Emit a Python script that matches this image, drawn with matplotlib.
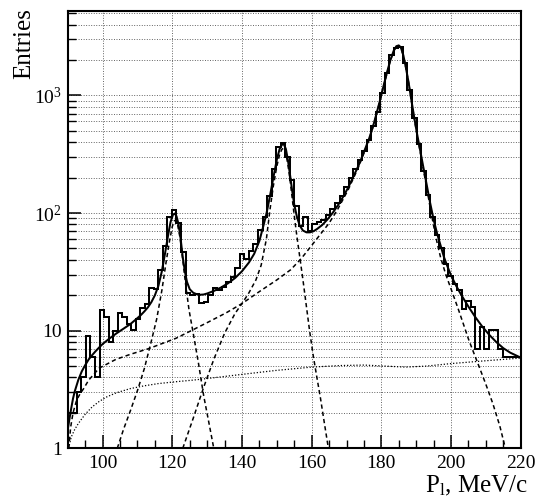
import numpy as np
import matplotlib
matplotlib.use("Agg")
import matplotlib.pyplot as plt
from matplotlib.ticker import FixedLocator, NullFormatter

plt.rcParams['font.family'] = ['Liberation Serif', 'DejaVu Serif']
plt.rcParams['mathtext.fontset'] = 'custom'
plt.rcParams['mathtext.rm'] = 'Liberation Serif'
plt.rcParams['mathtext.it'] = 'Liberation Serif:italic'

# ---- data ----
x_lo, x_hi, n_bins = 90.0, 220.0, 100
counts = [2.0, 2.0, 3.0, 4.0, 9.0, 6.0, 4.0, 15.0, 13.0, 8.0,
          10.0, 14.0, 13.0, 11.5, 10.2, 12.5, 15.5, 17.0, 23.0, 22.5,
          33.0, 52.0, 92.0, 106.0, 82.0, 47.0, 21.0, 20.0, 20.5, 17.3,
          17.6, 20.0, 22.9, 22.0, 23.6, 26.0, 28.8, 34.0, 45.0, 41.0,
          48.0, 55.0, 72.0, 93.0, 140.0, 235.0, 367.0, 392.0, 301.0, 190.0,
          115.0, 78.0, 92.0, 70.0, 80.0, 84.0, 88.0, 97.0, 108.0, 122.0,
          140.0, 165.0, 198.0, 235.0, 285.0, 340.0, 420.0, 545.0, 720.0, 1050.0,
          1550.0, 2200.0, 2550.0, 2600.0, 1900.0, 1120.0, 640.0, 390.0, 228.0, 142.0,
          92.0, 65.0, 50.0, 37.0, 29.0, 25.0, 22.0, 15.3, 17.8, 16.0,
          7.0, 10.8, 7.0, 10.1, 10.1, 7.0, 6.0, 6.0, 6.0, 6.0]

fit_x = [90.0, 90.5, 91.0, 91.5, 92.0, 93.0, 94.0, 95.0, 96.0, 97.0, 98.0, 99.0, 100.0,
         102.0, 104.0, 106.0, 108.0, 110.0, 111.0, 112.0, 113.0, 114.0, 115.0, 116.0,
         117.0, 118.0, 118.8, 119.5, 120.2, 120.7, 121.2, 121.8, 122.4, 123.0, 123.6,
         124.2, 125.0, 126.0, 127.0, 128.0, 129.0, 130.0, 132.0, 134.0, 136.0, 138.0,
         140.0, 142.0, 143.5, 145.0, 146.0, 147.0, 148.0, 149.0, 150.0, 150.8, 151.5,
         152.0, 152.6, 153.2, 153.8, 154.4, 155.0, 155.8, 156.6, 157.5, 158.5, 159.5,
         160.5, 161.5, 163.0, 164.5, 166.0, 167.5, 169.0, 170.5, 172.0, 173.5, 175.0,
         176.5, 177.5, 178.5, 179.5, 180.5, 181.5, 182.5, 183.5, 184.3, 185.0, 185.6,
         186.3, 187.0, 187.8, 188.6, 189.4, 190.2, 191.0, 192.0, 193.0, 194.0, 195.0,
         196.0, 197.0, 198.0, 199.0, 200.0, 201.5, 203.0, 205.0, 207.0, 209.0, 211.0,
         213.0, 215.0, 217.0, 220.0]
fit_y = [1.45, 1.8, 2.2, 2.65, 3.05, 3.8, 4.5, 5.1, 5.7, 6.2, 6.7, 7.2, 7.7,
         8.6, 9.5, 10.4, 11.4, 12.8, 13.6, 14.6, 15.8, 17.5, 20.0, 24.0,
         32.0, 47.0, 65.0, 84.0, 97.0, 99.0, 94.0, 80.0, 60.0, 42.0, 32.0,
         26.0, 22.5, 21.0, 20.4, 20.2, 20.3, 20.7, 21.8, 23.3, 25.3, 28.0,
         32.0, 38.0, 45.0, 58.0, 75.0, 98.0, 138.0, 200.0, 285.0, 350.0, 382.0,
         385.0, 350.0, 280.0, 210.0, 155.0, 118.0, 92.0, 78.0, 71.0, 68.5, 68.5,
         70.0, 73.0, 79.0, 88.0, 100.0, 116.0, 137.0, 165.0, 205.0, 255.0, 330.0,
         430.0, 530.0, 680.0, 880.0, 1160.0, 1520.0, 1950.0, 2380.0, 2620.0, 2660.0, 2560.0,
         2200.0, 1750.0, 1300.0, 920.0, 660.0, 480.0, 360.0, 250.0, 175.0, 122.0, 88.0,
         67.0, 53.0, 42.0, 35.0, 29.5, 24.0, 20.0, 16.0, 13.0, 10.8, 9.2,
         8.0, 7.1, 6.5, 5.9]

peak1_x = [104.2, 106.0, 108.0, 110.0, 112.0, 114.0, 115.5, 117.0, 118.2, 119.2, 120.0,
           120.6, 121.0, 121.5, 122.2, 123.0, 123.8, 124.8, 126.0, 127.5, 129.0, 130.5, 131.9]
peak1_y = [1.0, 1.45, 2.1, 3.1, 4.8, 8.2, 12.5, 22.0, 38.0, 58.0, 77.0,
           86.0, 87.0, 80.0, 62.0, 40.0, 25.0, 15.0, 9.5, 5.3, 2.8, 1.65, 1.0]

peak2_x = [123.0, 126.0, 129.0, 132.0, 135.0, 138.0, 140.0, 142.0, 144.0, 145.5, 147.0,
           148.0, 149.0, 150.0, 150.8, 151.5, 152.0, 152.6, 153.2, 153.8, 154.4, 155.0,
           155.8, 156.6, 157.5, 158.5, 159.4, 160.5, 161.5, 162.5, 163.7, 164.8]
peak2_y = [1.0, 1.8, 3.3, 5.8, 9.5, 14.0, 17.0, 21.0, 27.0, 36.0, 60.0,
           105.0, 170.0, 250.0, 315.0, 350.0, 355.0, 322.0, 255.0, 190.0, 135.0, 95.0,
           62.0, 42.0, 27.0, 16.0, 10.0, 6.0, 4.0, 2.7, 1.6, 1.0]

peak3_x = [90.3, 90.8, 91.5, 92.5, 93.5, 94.5, 96.0, 99.0, 103.8, 108.0, 113.3, 121.0,
           126.0, 130.0, 135.5, 140.0, 145.0, 150.0, 154.0, 157.0, 160.0, 162.5, 165.0,
           167.5, 170.5, 173.5, 176.5, 178.5, 180.5, 182.5, 183.5, 184.3, 185.0, 185.6,
           186.3, 187.0, 187.8, 188.6, 189.4, 190.2, 191.0, 192.0, 193.0, 194.0, 195.0,
           196.0, 197.0, 198.5, 200.4, 202.0, 203.5, 205.0, 206.5, 208.0, 210.0, 212.0,
           214.0, 215.6]
peak3_y = [1.0, 1.5, 2.0, 2.55, 2.9, 3.2, 3.8, 4.8, 5.7, 6.3, 7.05, 8.6,
           10.2, 11.7, 14.2, 17.0, 21.5, 27.0, 33.0, 41.0, 53.0, 66.0, 82.0,
           108.0, 158.0, 248.0, 420.0, 670.0, 1150.0, 1940.0, 2370.0, 2610.0, 2650.0, 2550.0,
           2190.0, 1740.0, 1290.0, 910.0, 650.0, 470.0, 350.0, 240.0, 165.0, 112.0, 78.0,
           56.0, 42.0, 30.0, 21.0, 15.5, 11.5, 8.5, 6.5, 5.0, 3.5, 2.4,
           1.55, 1.0]

bkg_x = [90.2, 91.0, 92.0, 93.0, 94.0, 95.0, 97.0, 99.0, 101.0, 104.0, 108.0, 112.0,
         116.0, 121.0, 126.0, 131.0, 140.0, 150.0, 160.0, 168.0, 175.0, 181.0, 187.0,
         193.0, 200.0, 210.0, 220.0]
bkg_y = [1.0, 1.25, 1.45, 1.62, 1.78, 1.95, 2.25, 2.5, 2.72, 2.97, 3.22, 3.4,
         3.55, 3.68, 3.8, 3.95, 4.25, 4.6, 4.9, 5.05, 5.1, 5.0, 4.9,
         5.0, 5.25, 5.55, 5.85]

x_major = [100, 120, 140, 160, 180, 200, 220]
y_major = [1, 10, 100, 1000]
y_labels = ['1', '10', r'$10^{2}$', r'$10^{3}$']

# ---- figure ----
W, H = 543, 499
fig = plt.figure(figsize=(W / 100, H / 100), dpi=100)
left, right, top, bottom = 67.8, 520.7, 10.7, 448.3
ax = fig.add_axes([left / W, 1 - bottom / H, (right - left) / W, (bottom - top) / H])

ax.set_yscale('log')
ax.set_xlim(x_lo, x_hi)
ax.set_ylim(1, 10 ** 3.72)

edges = np.linspace(x_lo, x_hi, n_bins + 1)
ax.stairs(counts, edges, baseline=None, color='black', lw=1.45, zorder=4)
ax.plot(fit_x, fit_y, color='black', lw=1.45, zorder=5)
for px, py in [(peak1_x, peak1_y), (peak2_x, peak2_y), (peak3_x, peak3_y)]:
    ax.plot(px, py, color='black', lw=1.1, linestyle=(0, (2.8, 2.0)), zorder=3)
ax.plot(bkg_x, bkg_y, color='black', lw=0.9, linestyle=(0, (1, 1.5)), zorder=3)

# ticks
ax.xaxis.set_major_locator(FixedLocator(x_major))
ax.xaxis.set_minor_locator(FixedLocator(np.arange(95, 220, 5)))
ax.set_xticklabels([str(v) for v in x_major])
ax.yaxis.set_major_locator(FixedLocator(y_major))
minor_y = [m * 10 ** d for d in range(0, 4) for m in range(2, 10)]
ax.yaxis.set_minor_locator(FixedLocator(minor_y))
ax.yaxis.set_minor_formatter(NullFormatter())
ax.set_yticklabels(y_labels)
ax.tick_params(which='major', direction='in', length=9.5, width=1.1, labelsize=14,
               top=False, right=False)
ax.tick_params(which='minor', direction='in', length=5.5, width=1.0, top=False, right=False)
ax.tick_params(axis='x', which='major', pad=5)
ax.tick_params(axis='y', which='major', pad=4)

# grid
gkw = dict(color='0.3', lw=0.65, linestyle=(0, (1, 1.8)))
ax.grid(axis='x', which='major', **gkw)
ax.grid(axis='y', which='both', **gkw)
ax.set_axisbelow(True)

for s in ax.spines.values():
    s.set_linewidth(1.5)

fig.text(528 / W, 1 - 492 / H, r'P$_{\mathrm{l}}$, MeV/c', ha='right', va='baseline', fontsize=18)
fig.text(24 / W, 1 - 8 / H, 'Entries', rotation=90, ha='center', va='top', fontsize=18)

fig.savefig('out.png', dpi=100)
